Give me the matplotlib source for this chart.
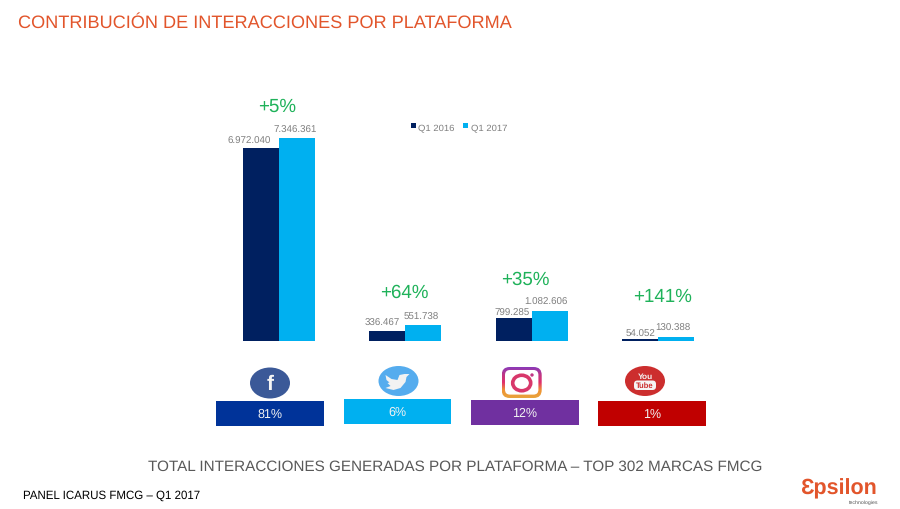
import matplotlib
matplotlib.use('Agg')
import matplotlib.pyplot as plt
import numpy as np
from matplotlib.colors import LinearSegmentedColormap
from matplotlib.patches import Ellipse, Rectangle, FancyBboxPatch, Polygon, Circle

plt.rcParams['font.family'] = ['Liberation Sans', 'DejaVu Sans']
plt.rcParams['text.hinting'] = 'no_hinting'

# Data
platforms = ['Facebook', 'Twitter', 'Instagram', 'YouTube']
q1_2016 = [6972040, 336467, 799285, 54052]
q1_2017 = [7346361, 551738, 1082606, 130388]
labels_2016 = ['6.972.040', '336.467', '799.285', '54.052']
labels_2017 = ['7.346.361', '551.738', '1.082.606', '130.388']
growth = ['+5%', '+64%', '+35%', '+141%']
shares = ['81%', '6%', '12%', '1%']

# Styles
NAVY = '#002060'
SKY = '#00B0F0'
GREEN = '#1FB25A'
ORANGE = '#E2552B'
GREY = '#7F7F7F'
share_colors = ['#003399', '#00B0F0', '#7030A0', '#C00000']

W, H = 900, 510
fig = plt.figure(figsize=(W / 100, H / 100), dpi=100)

# Bar axes, placed in pixels
left, right, top, base = 215.2, 721.7, 121, 341.5
ax = fig.add_axes([left / W, 1 - base / H, (right - left) / W, (base - top) / H])
ax.axis('off')
ax.set_xlim(-0.5, 3.5)
ax.set_ylim(0, 8000000)

bw = 36 / 126.6
xs = range(len(platforms))
bars_a = ax.bar([x - bw / 2 for x in xs], q1_2016, bw, color=NAVY, label='Q1 2016')
bars_b = ax.bar([x + bw / 2 for x in xs], q1_2017, bw, color=SKY, label='Q1 2017')

# label offsets from the bar tops, pixels
off_a = [(-11, 8), (-5, 8.7), (-1.5, 6.3), (0, 5.5)]
off_b = [(-1, 8.5), (-2, 9.3), (-4, 9), (-4, 9.4)]
off_g = [(-1, 32.5), (-1, 33), (-6.5, 32), (4.6, 41.4)]

for i in xs:
    ax.annotate(labels_2016[i], (i - bw / 2, q1_2016[i]), xytext=off_a[i], textcoords='offset pixels',
                ha='center', va='center', fontsize=7, color=GREY)
    ax.annotate(labels_2017[i], (i + bw / 2, q1_2017[i]), xytext=off_b[i], textcoords='offset pixels',
                ha='center', va='center', fontsize=7, color=GREY)
    ax.annotate(growth[i], (i, q1_2017[i]), xytext=off_g[i], textcoords='offset pixels',
                ha='center', va='center', fontsize=13.5, color=GREEN)

fig.legend(handles=[bars_a, bars_b], loc='center left', bbox_to_anchor=(411 / W, 1 - 127.8 / H), ncol=2,
           frameon=False, fontsize=6.8, labelcolor=GREY, handlelength=0.5, handleheight=0.5,
           handletextpad=0.25, columnspacing=0.95, borderpad=0, borderaxespad=0)

# Overlay in pixel coordinates for the icons and the text around the chart
deco = fig.add_axes([0, 0, 1, 1], zorder=-1)
deco.axis('off')

# instagram outline gradient, clipped to the rounded square
insta = LinearSegmentedColormap.from_list('insta', ['#8A3AB9', '#C13584', '#E1306C', '#F09433', '#E8A33D'])
grad = deco.imshow(np.linspace(0, 1, 64).reshape(-1, 1), cmap=insta, aspect='auto', extent=(501.7, 541.7, 399, 368))
outer = FancyBboxPatch((501.7, 368), 40, 31, boxstyle='round,pad=0,rounding_size=8', fc='none', ec='none')
deco.add_patch(outer)
grad.set_clip_path(outer)
deco.add_patch(FancyBboxPatch((505, 371), 33.4, 24.6, boxstyle='round,pad=0,rounding_size=5', fc='white', ec='none'))
deco.add_patch(Ellipse((521.7, 384), 18, 15.5, fc='white', ec='#D8386B', lw=2.6))
deco.add_patch(Circle((532, 376), 1.7, color='#C13584', lw=0))

deco.set_xlim(0, W)
deco.set_ylim(H, 0)

# share boxes
boxes = [(216, 401.7, 108, 25), (344, 400, 107.3, 25), (471, 401, 107.7, 24.7), (597.7, 401.7, 108, 25)]
for (bx, by, bwid, bh), col, txt in zip(boxes, share_colors, shares):
    deco.add_patch(Rectangle((bx, by), bwid, bh, color=col, lw=0))
    deco.text(bx + bwid / 2, by + bh / 2 + 0.5, txt, ha='center', va='center', fontsize=9, color='#F2F2F2')

# facebook
deco.add_patch(Ellipse((270, 384), 40, 31, color='#3B5998', lw=0))
deco.text(270, 385, 'f', ha='center', va='center', fontsize=15, fontweight='bold', color='#F5F5F5')

# twitter
deco.add_patch(Ellipse((398.5, 382), 40, 30, color='#55ACEE', lw=0))
deco.add_patch(Polygon([(385.5, 376), (391.5, 380), (397.5, 381), (399.5, 376), (404.5, 375), (409.5, 375),
                        (406.5, 378), (405.5, 383), (400.5, 389), (393.5, 391), (385.5, 389), (390.5, 387),
                        (387.5, 384), (389.5, 383.5), (386.5, 381)], color='#F2F2F2', lw=0))

# youtube
deco.add_patch(Ellipse((645, 382), 40, 30, color='#CC2E2E', lw=0))
deco.text(645, 376.5, 'You', ha='center', va='center', fontsize=6, fontweight='bold', color='#F5F5F5')
deco.add_patch(FancyBboxPatch((634, 381.5), 22, 9.5, boxstyle='round,pad=0,rounding_size=3.5', color='#F5F5F5', lw=0))
deco.text(645, 386.3, 'Tube', ha='center', va='center', fontsize=5.5, fontweight='bold', color='#CC2E2E')

# titles and footer
deco.text(18.5, 28, 'CONTRIBUCIÓN DE INTERACCIONES POR PLATAFORMA', ha='left', va='baseline',
          fontsize=13.07, color=ORANGE)
deco.text(455, 467, 'TOTAL INTERACCIONES GENERADAS POR PLATAFORMA – TOP 302 MARCAS FMCG',
          ha='center', va='center', fontsize=10.98, color='#595959')
deco.text(23, 496, 'PANEL ICARUS FMCG – Q1 2017', ha='left', va='center', fontsize=8.3, color='#000000')

# logo
deco.text(800, 488.5, 'Ɛpsilon', ha='left', va='center', fontsize=15.5, fontweight='bold', color=ORANGE)
deco.text(878, 502.5, 'technologies', ha='right', va='center', fontsize=3.8, color='#555555')

fig.savefig('out.png', dpi=100, facecolor='white')
